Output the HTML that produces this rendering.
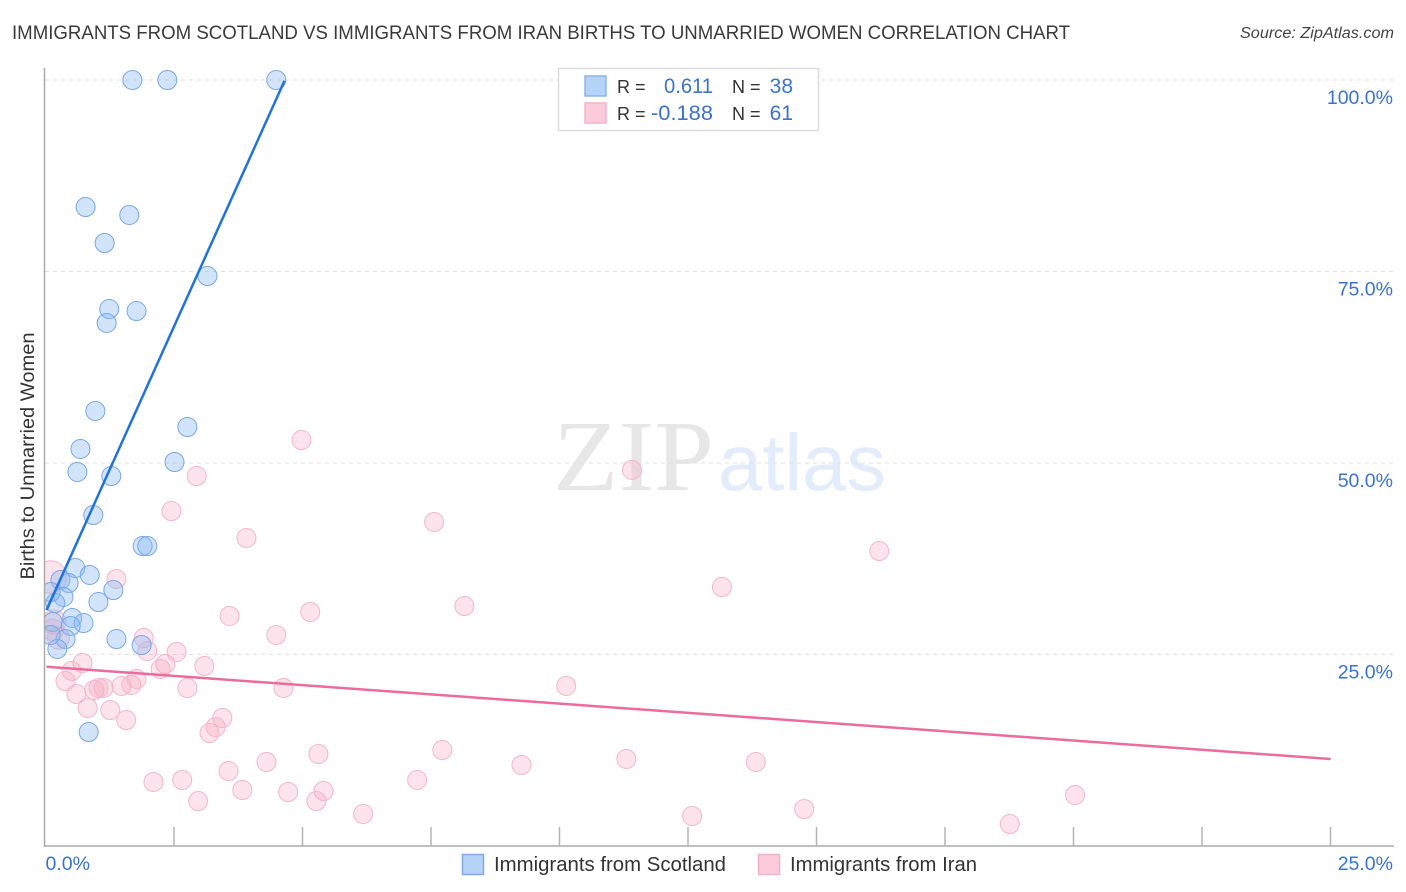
<!DOCTYPE html>
<html lang="en">
<head>
<meta charset="utf-8">
<title>Immigrants from Scotland vs Immigrants from Iran Births to Unmarried Women Correlation Chart</title>
<style>
html,body{margin:0;padding:0;background:#fff;width:1406px;height:892px;overflow:hidden}
svg{display:block;font-family:"Liberation Sans",sans-serif}
</style>
</head>
<body>
<svg id="chart" xmlns="http://www.w3.org/2000/svg" width="1406" height="892" viewBox="0 0 1406 892">
  <defs><clipPath id="plot-clip"><rect x="45" y="60" width="1349" height="786"/></clipPath></defs>
  <rect x="0" y="0" width="1406" height="892" fill="#fff"/>
  <text x="12" y="39" font-size="19" fill="#3a3a3a" textLength="1058" lengthAdjust="spacingAndGlyphs">IMMIGRANTS FROM SCOTLAND VS IMMIGRANTS FROM IRAN BIRTHS TO UNMARRIED WOMEN CORRELATION CHART</text>
  <text x="1394" y="38" font-size="15.5" font-style="italic" fill="#444" text-anchor="end" textLength="154" lengthAdjust="spacingAndGlyphs">Source: ZipAtlas.com</text>
  <text x="553" y="490" font-family="'Liberation Serif',serif" font-size="101" fill="#e7e7e7" textLength="161" lengthAdjust="spacingAndGlyphs">ZIP</text>
  <text x="718" y="490" font-size="80" fill="#e3ecfa" textLength="168" lengthAdjust="spacingAndGlyphs">atlas</text>
  <text transform="translate(34,456) rotate(-90)" font-size="19.5" fill="#333" text-anchor="middle" textLength="247" lengthAdjust="spacingAndGlyphs">Births to Unmarried Women</text>
  <g id="grid"></g>
  <g id="axes"></g>
  <g id="marks" clip-path="url(#plot-clip)"></g>
  <g id="trends"></g>
  <g>
    <rect x="558.5" y="68.5" width="260" height="62" fill="#fff" stroke="#dcdcdc" stroke-width="1.5"/>
    <rect x="585" y="76" width="21" height="20" fill="#b5d3f7" stroke="#8fb4e4" stroke-width="1.5"/>
    <rect x="585" y="103" width="21" height="20" fill="#fccbdb" stroke="#f3b4c9" stroke-width="1.5"/>
    <text x="617" y="93" font-size="18" fill="#333">R =</text>
    <text x="713" y="93" font-size="21" fill="#3a73cf" text-anchor="end" textLength="49" lengthAdjust="spacingAndGlyphs">0.611</text>
    <text x="732" y="93" font-size="18" fill="#333">N =</text>
    <text x="793" y="93" font-size="21" fill="#3a73cf" text-anchor="end">38</text>
    <text x="617" y="120" font-size="18" fill="#333">R =</text>
    <text x="713" y="120" font-size="21" fill="#3a73cf" text-anchor="end" textLength="62" lengthAdjust="spacingAndGlyphs">-0.188</text>
    <text x="732" y="120" font-size="18" fill="#333">N =</text>
    <text x="793" y="120" font-size="21" fill="#3a73cf" text-anchor="end">61</text>
  </g>
  <g>
    <g>
      <rect x="462.5" y="854.5" width="21" height="20" fill="#b5d3f7" stroke="#7fa9e0" stroke-width="1.5"/>
      <text x="494" y="871" font-size="20" fill="#333" textLength="232" lengthAdjust="spacingAndGlyphs">Immigrants from Scotland</text>
    </g>
    <g>
      <rect x="758.5" y="854.5" width="21" height="20" fill="#fccbdb" stroke="#f3b4c9" stroke-width="1.5"/>
      <text x="790" y="871" font-size="20" fill="#333" textLength="187" lengthAdjust="spacingAndGlyphs">Immigrants from Iran</text>
    </g>
  </g>
</svg>
<script>
const scotlandX = [1.69,2.37,4.49,0.78,1.63,1.15,3.15,1.24,1.77,1.19,0.97,2.76,0.68,2.51,0.62,1.28,0.93,1.89,1.98,0.58,0.86,0.29,0.45,1.32,0.35,0.19,1.03,0.10,0.52,0.74,0.49,0.14,0.39,1.38,1.87,0.23,0.84,0.10];
const scotlandY = [100,100,100,83.42,82.38,78.72,74.41,70.10,69.84,68.28,56.79,54.70,51.83,50.13,48.83,48.30,43.21,39.16,39.16,36.29,35.38,34.73,34.33,33.42,32.51,31.72,31.85,33.16,29.77,29.11,28.72,29.24,27.02,27.02,26.24,25.72,14.88,27.55];
const iranX = [1.38,0.10,0.16,0.25,0.14,1.91,1.98,2.55,2.33,2.24,3.09,0.72,0.51,0.39,0.60,0.82,1.26,1.57,0.95,1.03,1.13,1.48,1.67,1.77,2.76,3.44,3.31,3.19,4.98,11.41,2.94,2.45,7.56,3.91,16.22,13.16,8.15,5.15,3.58,4.49,10.13,4.63,7.72,5.31,11.30,4.30,13.82,9.26,3.56,7.23,2.10,2.66,3.83,4.72,5.41,5.27,2.97,14.76,20.03,6.18,12.58,18.76];
const iranY = [34.86,35.12,29.24,27.15,28.20,27.15,25.46,25.33,23.76,23.11,23.50,23.89,22.85,21.54,19.84,18.02,17.75,16.45,20.37,20.63,20.63,20.89,21.02,21.80,20.63,16.71,15.54,14.75,53.00,49.09,48.30,43.73,42.30,40.21,38.51,33.81,31.33,30.55,30.03,27.55,20.89,20.63,12.53,12.01,11.36,10.97,10.97,10.57,9.79,8.62,8.36,8.62,7.31,7.05,7.18,5.87,5.87,4.83,6.66,4.18,3.92,2.87];
const iranWeight = [1,2.9,1.6,1.35,1.3];
const scotlandTrendX = [0.02,4.65];
const scotlandTrendY = [30.8,99.9];
const iranTrendX = [0.02,25];
const iranTrendY = [23.4,11.36];
const xTicks = [0,2.5,5,7.5,10,12.5,15,17.5,20,22.5,25];
const xTickLabels = ["0.0%","25.0%"];
const yGridValues = [100,75,50,25];
const yTickLabels = ["100.0%","75.0%","50.0%","25.0%"];

const NS = "http://www.w3.org/2000/svg";
function sx(v){ return 45.5 + v * (1330 - 45) / 25; }
function sy(v){ return 846 - v * (846 - 80) / 100; }
function mk(tag, parent, attrs){
  const el = document.createElementNS(NS, tag);
  for (const k in attrs) el.setAttribute(k, attrs[k]);
  parent.appendChild(el);
  return el;
}
const grid = document.getElementById("grid");
const axes = document.getElementById("axes");
const marks = document.getElementById("marks");
const trends = document.getElementById("trends");

yGridValues.forEach(function(v, i){
  const line = mk("line", grid, {x1:45, x2:1394, y1:sy(v), y2:sy(v), stroke:"#e0e0e0", "stroke-width":1, "stroke-dasharray":"4 4"});
  
  
  const t = mk("text", axes, {x:1393, y:sy(v)+24, "font-size":19.5, fill:"#3a73cf", "text-anchor":"end"});
  t.textContent = yTickLabels[i];
  
  
});

const yAxis = mk("line", axes, {x1:44.5, x2:44.5, y1:68, y2:847, stroke:"#aaa", "stroke-width":1.5});


const xAxis = mk("line", axes, {x1:44, x2:1394, y1:846, y2:846, stroke:"#aaa", "stroke-width":1.5});



xTicks.slice(1).forEach(function(v){
  const tick = mk("line", axes, {x1:sx(v), x2:sx(v), y1:827, y2:846, stroke:"#b4b4b4", "stroke-width":1.5});
  
  
});

const xLeft = mk("text", axes, {x:sx(xTicks[0]), y:870, "font-size":19.5, fill:"#3a73cf"});
xLeft.textContent = xTickLabels[0];


const xRight = mk("text", axes, {x:1393, y:870, "font-size":19.5, fill:"#3a73cf", "text-anchor":"end"});
xRight.textContent = xTickLabels[1];



iranX.forEach(function(v, i){
  const w = iranWeight[i] || 1;
  const c = mk("circle", marks, {cx:sx(v), cy:sy(iranY[i]), r:9.5*Math.sqrt(w), fill:"#f8a9c3", "fill-opacity":0.33, stroke:"#f4b6ca", "stroke-width":1});
  
  
});
scotlandX.forEach(function(v, i){
  const c = mk("circle", marks, {cx:sx(v), cy:sy(scotlandY[i]), r:9.5, fill:"#8dbcf2", "fill-opacity":0.4, stroke:"#7aa7e2", "stroke-width":1});
  
  
});

const blueLine = mk("line", trends, {x1:sx(scotlandTrendX[0]), y1:sy(scotlandTrendY[0]), x2:sx(scotlandTrendX[1]), y2:sy(scotlandTrendY[1]), stroke:"#2273d8", "stroke-width":2.5});


const pinkLine = mk("line", trends, {x1:sx(iranTrendX[0]), y1:sy(iranTrendY[0]), x2:sx(iranTrendX[1]), y2:sy(iranTrendY[1]), stroke:"#e96c9c", "stroke-width":2.5});


</script>
</body>
</html>
